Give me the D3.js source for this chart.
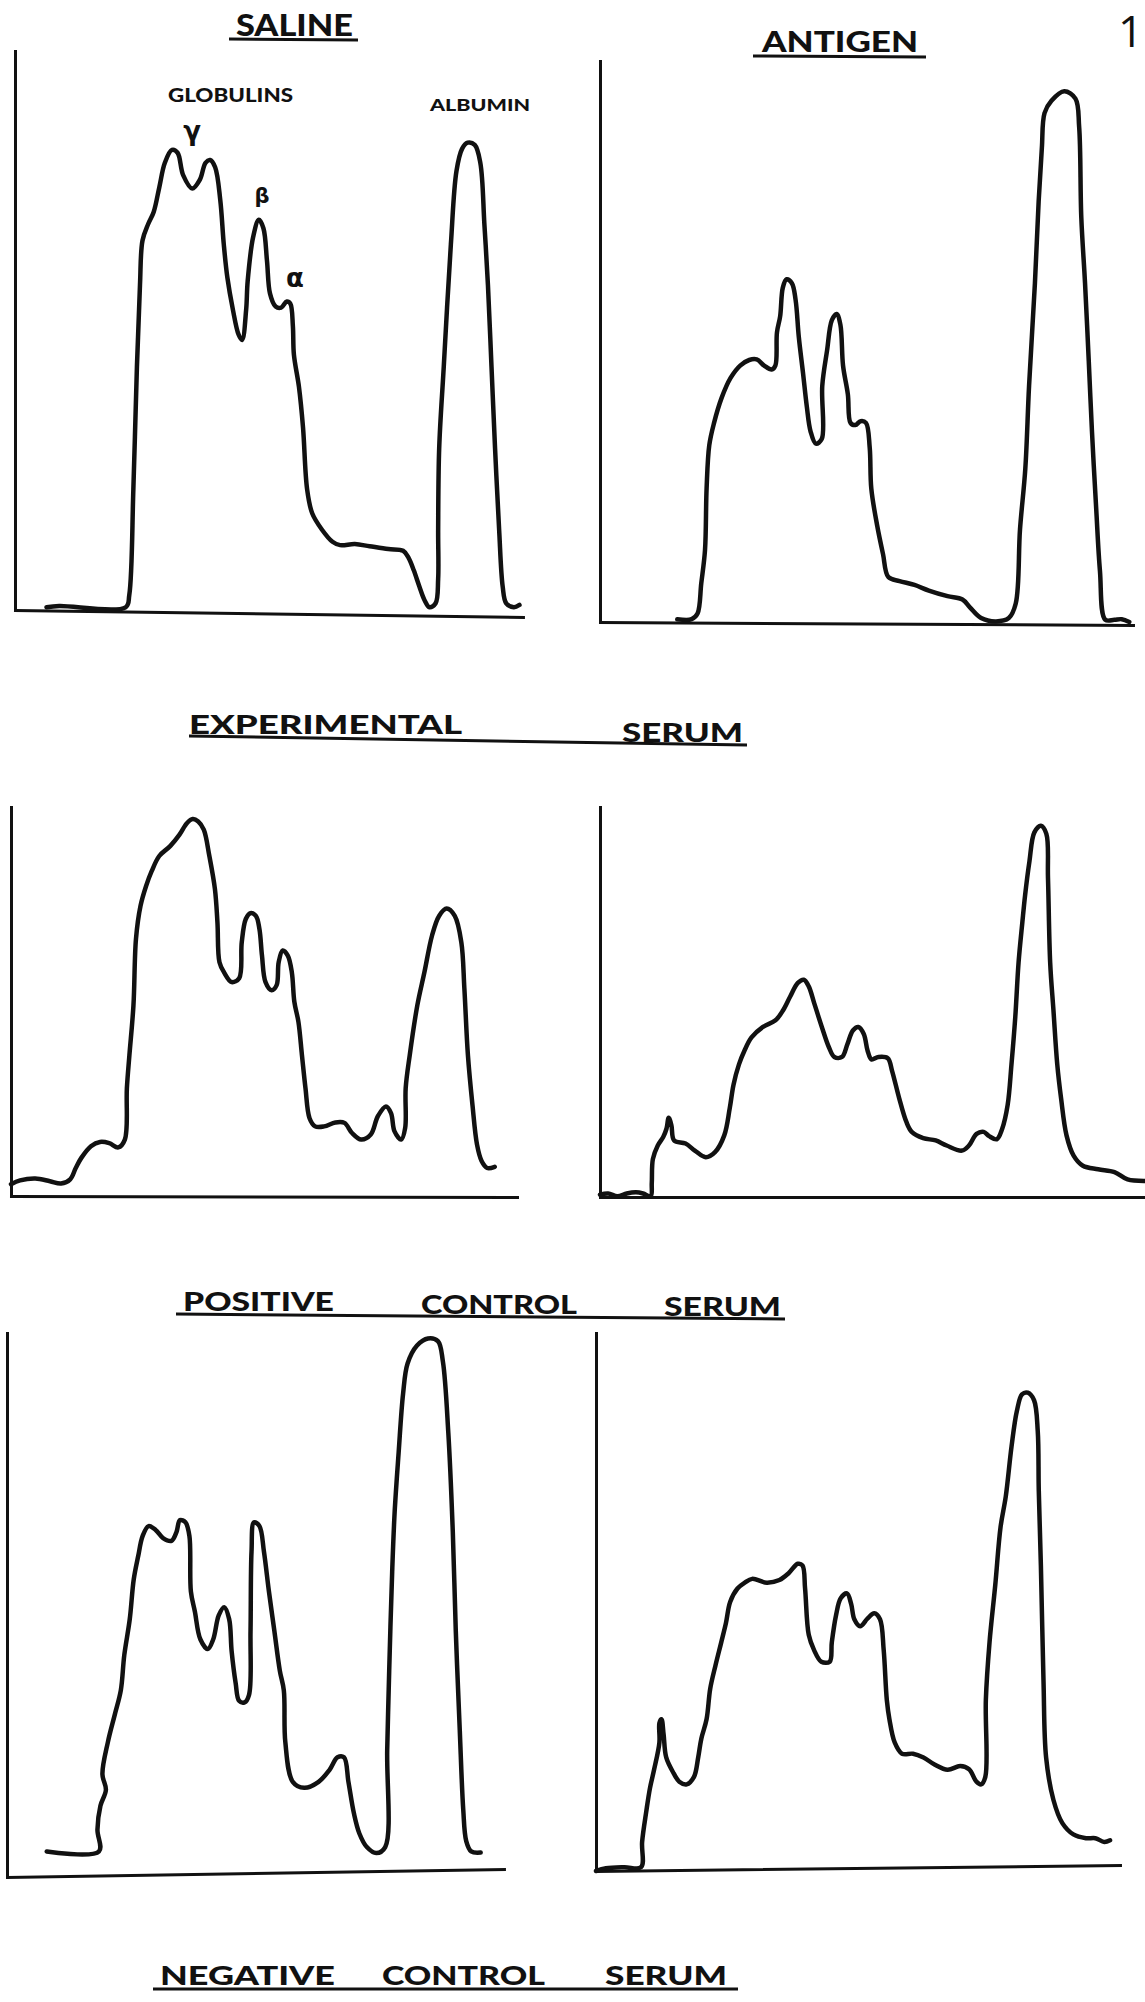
<!DOCTYPE html>
<html><head><meta charset="utf-8">
<script src="https://cdn.jsdelivr.net/npm/d3@7"></script>
<style>body{margin:0;background:#fff}svg{display:block}</style>
</head><body>
<svg id="chart" width="1145" height="2002"></svg>
<script>
// ---- data: [relative migration position (0-100), relative optical density (0-100)] ----
const expSalineTrace = [[6.2,0.5],[8.7,0.7],[21.8,0.5],[22.5,2.7],[23.3,21.6],[24.0,43.5],[24.6,58.1],[25.1,66.1],[26.2,69.0],[27.3,71.2],[28.4,75.6],[29.5,80.0],[30.9,82.3],[32.0,81.8],[33.1,77.8],[34.9,75.4],[36.4,77.0],[37.5,80.0],[38.4,80.5],[39.4,79.2],[40.4,73.4],[41.1,65.4],[41.8,59.5],[42.9,53.7],[44.0,49.3],[44.7,48.3],[45.5,53.7],[45.8,58.8],[46.9,66.8],[48.0,69.8],[48.9,68.3],[49.6,62.5],[50.2,56.6],[51.3,54.3],[52.4,54.1],[53.5,55.2],[54.2,54.8],[54.7,50.8],[54.9,45.7],[55.9,39.9],[56.7,32.6],[57.5,21.6],[58.5,17.3],[60.4,14.4],[62.5,12.2],[64.0,11.6],[66.9,11.8],[69.8,11.4],[73.5,10.9],[76.4,10.6],[77.5,9.3],[78.5,7.1],[79.6,4.2],[80.6,1.8],[81.6,0.5],[82.8,1.2],[83.3,5.6],[83.3,14.4],[83.5,28.9],[84.4,43.5],[85.8,65.4],[86.9,78.5],[88.0,82.5],[89.1,83.6],[90.5,83.2],[91.6,80.0],[92.4,69.0],[93.1,58.1],[93.8,43.5],[94.5,28.9],[95.3,14.4],[96.0,4.2],[96.7,1.2],[98.2,0.5],[99.3,0.9]];

const expAntigenTrace = [[14.5,0.5],[17.2,0.5],[18.3,1.5],[19.0,6.9],[19.7,12.8],[20.0,23.8],[20.5,31.5],[21.4,35.5],[22.8,39.9],[24.5,43.5],[26.3,45.7],[28.0,46.7],[29.4,46.8],[30.8,45.7],[32.2,45.0],[32.9,45.7],[33.2,51.6],[33.8,54.5],[34.3,59.6],[35.0,61.1],[36.0,60.4],[36.7,57.4],[37.3,50.8],[38.1,44.3],[38.8,38.4],[39.5,34.0],[40.5,31.8],[41.6,32.6],[41.7,42.1],[42.6,48.4],[43.5,53.8],[44.4,54.9],[45.1,53.0],[45.6,45.7],[46.5,40.6],[47.0,35.5],[47.9,35.1],[48.9,35.8],[49.9,35.5],[50.6,31.1],[50.9,23.8],[52.0,17.2],[53.1,12.1],[54.1,8.0],[56.2,7.3],[59.0,6.6],[61.7,5.6],[65.2,4.6],[68.0,4.0],[69.4,2.6],[71.5,0.7],[74.3,0.1],[76.7,0.7],[78.0,3.3],[78.8,16.5],[79.8,27.4],[80.5,42.1],[81.6,60.4],[82.3,75.0],[82.9,84.5],[83.4,90.7],[84.7,92.9],[87.1,94.6],[89.2,93.3],[89.9,88.2],[90.3,72.1],[91.0,60.4],[91.7,46.5],[92.3,34.0],[93.1,20.1],[93.8,9.1],[94.8,0.4],[96.5,0.4],[97.9,0.5],[99.3,0.0]];

const posSalineTrace = [[0,3.0],[1.8,4.0],[4.8,4.5],[7.7,3.8],[9.9,3.2],[11.7,4.3],[12.8,7.2],[13.9,9.8],[15.8,12.8],[17.6,13.9],[19.4,13.6],[21.2,12.5],[22.5,14.5],[22.9,27.7],[23.4,36.2],[24.2,49.0],[24.7,66.1],[25.6,74.6],[26.7,79.7],[27.8,83.5],[29.3,87.4],[31.5,90.0],[33.3,92.9],[34.8,95.9],[35.9,96.9],[37.0,96.3],[38.1,94.2],[39.2,87.4],[40.3,78.9],[40.8,70.3],[41.2,60.1],[42.1,57.5],[43.6,55.0],[45.1,56.0],[45.6,65.2],[46.4,71.2],[47.3,72.7],[48.4,72.0],[49.1,68.6],[49.6,61.8],[50.3,55.0],[51.5,52.9],[52.5,54.2],[52.9,60.1],[53.7,63.1],[54.7,61.8],[55.5,57.5],[56.0,49.9],[56.8,44.8],[57.5,36.2],[58.2,27.7],[59.0,20.0],[60.1,17.9],[61.9,17.9],[64.1,18.9],[65.9,18.8],[67.4,16.2],[69.2,14.5],[71.1,15.8],[72.5,20.5],[74.1,23.0],[75.1,21.3],[75.8,16.6],[77.1,14.5],[77.9,17.5],[78.0,27.7],[78.8,36.2],[80.3,49.0],[81.7,57.5],[83.2,66.9],[84.6,72.0],[86.1,73.9],[87.7,72.0],[89.0,65.2],[89.6,53.3],[90.3,36.2],[91.2,23.4],[92.1,13.2],[93.0,9.0],[94.1,7.2],[95.6,7.5]];

const posAntigenTrace = [[0,0.6],[1.5,0.9],[3.2,0.2],[4.9,0.9],[6.6,1.2],[7.9,0.9],[9.3,0.2],[9.5,3.6],[9.7,9.7],[10.6,13.2],[11.6,15.4],[12.2,17.5],[12.6,20.3],[13.1,18.4],[13.6,14.5],[15.7,13.7],[17.4,11.9],[19.4,10.2],[21.1,11.5],[22.8,15.8],[23.8,22.7],[24.5,28.8],[25.5,34.0],[26.5,37.5],[27.8,40.9],[29.9,43.6],[32.2,45.3],[33.6,47.9],[34.9,51.4],[36.3,54.9],[37.4,55.7],[38.3,54.0],[39.3,49.7],[40.7,43.6],[42.0,38.4],[43.0,35.9],[44.4,35.9],[45.4,39.2],[46.4,42.7],[47.4,43.6],[48.4,41.8],[49.1,37.5],[49.8,35.3],[51.1,35.9],[52.8,35.6],[53.6,32.3],[54.9,25.3],[56.2,19.3],[57.2,16.7],[59.3,15.1],[61.6,14.5],[63.6,13.2],[66.4,11.9],[67.7,13.2],[69.1,16.2],[70.4,16.7],[71.4,15.6],[72.8,14.8],[73.8,17.5],[74.8,23.6],[75.5,34.0],[76.2,46.2],[76.8,60.1],[77.5,70.5],[78.0,77.4],[78.8,86.1],[79.7,93.5],[80.9,95.2],[81.9,93.1],[82.2,81.8],[82.6,60.1],[83.2,47.9],[83.9,34.0],[84.6,25.3],[85.6,15.8],[86.9,10.6],[88.6,8.0],[91.4,7.1],[94.4,6.4],[96.8,4.5],[100,4.1]];

const negSalineTrace = [[8.0,4.7],[18.5,4.7],[18.2,8.7],[18.8,13.1],[19.9,16.0],[19.2,18.9],[20.3,24.8],[21.7,29.9],[22.9,34.3],[23.6,40.8],[24.7,47.4],[25.5,54.7],[26.4,59.0],[27.3,62.7],[28.5,64.5],[29.9,63.8],[31.4,62.3],[33.1,61.8],[34.1,63.4],[34.8,65.6],[35.9,65.2],[36.7,62.7],[37.0,52.5],[37.8,48.8],[38.9,43.7],[40.4,41.9],[41.5,43.7],[42.6,48.1],[43.7,49.6],[44.7,47.4],[45.2,41.5],[46.0,35.7],[46.7,32.4],[47.8,32.1],[48.7,33.5],[49.0,45.2],[49.2,59.8],[49.7,65.2],[50.8,64.5],[51.7,59.8],[52.7,52.5],[53.8,45.2],[54.9,37.9],[55.7,34.3],[56.0,24.8],[57.5,17.5],[59.8,16.4],[62.7,17.5],[64.9,19.7],[66.5,22.0],[67.8,22.0],[68.7,17.5],[69.8,11.7],[70.9,8.0],[72.4,5.5],[74.3,4.4],[76.1,5.5],[76.5,23.3],[76.9,37.9],[77.5,56.1],[78.0,67.1],[78.8,78.0],[79.7,88.9],[80.6,94.4],[82.5,97.7],[84.7,99.0],[86.7,98.5],[87.7,94.8],[88.8,81.6],[89.7,63.4],[90.3,45.2],[91.1,27.0],[91.8,12.4],[92.4,6.6],[93.4,4.7],[95.3,4.5]];

const negAntigenTrace = [[0,0],[1.9,0.5],[5.4,0.7],[8.6,0.7],[8.8,5.4],[9.6,11.1],[10.3,15.4],[11.1,18.9],[12.1,23.9],[12.1,27.5],[12.5,28.2],[12.9,25.4],[13.4,21.1],[14.8,18.2],[15.9,16.6],[17.3,16.1],[18.7,17.5],[19.5,21.1],[20.1,24.6],[21.1,28.2],[21.8,33.9],[22.8,38.2],[23.9,42.5],[24.8,46.1],[25.6,50.0],[27.0,52.5],[28.4,53.6],[29.8,54.3],[32.6,53.6],[35.0,54.1],[36.8,55.4],[38.5,57.1],[39.4,56.8],[39.9,52.5],[40.6,43.9],[41.6,41.1],[43.0,38.9],[44.6,38.9],[45.0,42.5],[45.8,47.5],[46.7,50.7],[47.9,51.6],[48.7,49.6],[49.3,46.8],[50.4,45.5],[51.8,46.9],[53.1,47.9],[54.2,46.8],[54.9,41.1],[55.5,31.8],[56.0,28.2],[57.0,23.9],[58.4,21.8],[60.5,21.8],[62.5,21.1],[64.6,19.8],[67.1,18.8],[69.5,19.5],[71.2,18.9],[72.6,16.6],[73.5,16.1],[74.3,17.5],[74.4,31.8],[75.1,42.5],[76.2,53.2],[77.2,63.9],[78.2,69.6],[79.3,78.9],[80.3,85.4],[81.3,88.6],[82.4,88.9],[83.6,87.5],[84.3,81.8],[84.5,70.7],[84.9,56.8],[85.4,35.4],[85.9,21.1],[87.3,13.2],[89.0,8.9],[91.1,6.8],[93.5,6.1],[95.3,6.1],[97.0,5.4],[98.1,5.7]];

const columnTitles = ["SALINE", "ANTIGEN"];
const rowCaptions = [["EXPERIMENTAL", "SERUM"], ["POSITIVE", "CONTROL", "SERUM"], ["NEGATIVE", "CONTROL", "SERUM"]];
const fractionLabels = ["GLOBULINS", "ALBUMIN"];
const peakLabels = ["γ", "β", "α"];
const pageNumber = "1";

// ---- layout (pixel positions only) ----
const panels = [
  {trace: expSalineTrace,  x0: 15,  x1: 523,  yBase: 610,  yTop: 51,   tilt: 7},
  {trace: expAntigenTrace, x0: 600, x1: 1133, yBase: 622,  yTop: 61,   tilt: 3},
  {trace: posSalineTrace,  x0: 11,  x1: 517,  yBase: 1196, yTop: 807,  tilt: 1},
  {trace: posAntigenTrace, x0: 600, x1: 1145, yBase: 1197, yTop: 807,  tilt: 0},
  {trace: negSalineTrace,  x0: 7,   x1: 504,  yBase: 1877, yTop: 1333, tilt: -8},
  {trace: negAntigenTrace, x0: 596, x1: 1120, yBase: 1871, yTop: 1333, tilt: -6}
];

const svg = d3.select("#chart");
svg.append("rect").attr("width", 1145).attr("height", 2002).attr("fill", "#fff");
const ink = "#111";
const titleFont = "Lato, 'Open Sans', 'DejaVu Sans', sans-serif";

panels.forEach((p, i) => {
  const x = d3.scaleLinear().domain([0, 100]).range([p.x0, p.x1]);
  const y = d3.scaleLinear().domain([0, 100]).range([p.yBase, p.yTop]);
  const g = svg.append("g").attr("class", "panel-" + i);

  const ang = Math.atan2(p.tilt, p.x1 - p.x0) * 180 / Math.PI;
  const xAxis = g.append("g")
    .attr("transform", `rotate(${ang},${p.x0},${p.yBase}) translate(0,${p.yBase})`)
    .call(d3.axisBottom(x).tickValues([]).tickSizeOuter(0));
  const yAxis = g.append("g")
    .attr("transform", `translate(${p.x0},0)`)
    .call(d3.axisLeft(y).tickValues([]).tickSizeOuter(0));
  [xAxis, yAxis].forEach(a => a.select(".domain").attr("stroke", ink).attr("stroke-width", 3).attr("stroke-linecap", "square"));

  const line = d3.line()
    .x(d => x(d[0])).y(d => y(d[1]))
    .curve(d3.curveCatmullRom.alpha(0.5));
  g.append("path").datum(p.trace)
    .attr("d", line)
    .attr("fill", "none")
    .attr("stroke", ink)
    .attr("stroke-width", 4.5)
    .attr("stroke-linejoin", "round")
    .attr("stroke-linecap", "round");
});

// ---- titles ----
function word(txt, x0, x1, yb, size) {
  svg.append("text").text(txt)
    .attr("x", x0).attr("y", yb)
    .attr("textLength", x1 - x0).attr("lengthAdjust", "spacingAndGlyphs")
    .attr("font-family", titleFont).attr("font-weight", 900)
    .attr("font-size", size).attr("fill", ink);
}
function underline(xa, ya, xb, yb, w) {
  svg.append("line").attr("x1", xa).attr("y1", ya).attr("x2", xb).attr("y2", yb)
    .attr("stroke", ink).attr("stroke-width", w || 3);
}

word(columnTitles[0], 236, 353, 36, 30);
underline(229, 39, 358, 40);
word(columnTitles[1], 762, 918, 52, 29);
underline(753, 56, 926, 57);

svg.append("text").text(pageNumber).attr("x", 1118).attr("y", 47)
  .attr("font-family", "'Open Sans', sans-serif").attr("font-size", 44).attr("fill", ink);

word(rowCaptions[0][0], 189, 462, 734, 26);
word(rowCaptions[0][1], 622, 743, 742, 26);
underline(189, 736, 747, 745);

word(rowCaptions[1][0], 183, 334, 1311, 26);
word(rowCaptions[1][1], 421, 577, 1314, 26);
word(rowCaptions[1][2], 664, 781, 1316, 26);
underline(176, 1314, 785, 1319);

word(rowCaptions[2][0], 160, 335, 1985, 26);
word(rowCaptions[2][1], 382, 545, 1985, 26);
word(rowCaptions[2][2], 605, 727, 1985, 26);
underline(153, 1989, 738, 1989);

// ---- fraction labels on the first panel ----
word(fractionLabels[0], 168, 293, 102, 18);
word(fractionLabels[1], 430, 530, 111, 17);

const greek = [{t: peakLabels[0], x: 192, y: 140, s: 26}, {t: peakLabels[1], x: 262, y: 203, s: 21}, {t: peakLabels[2], x: 295, y: 287, s: 26}];
greek.forEach(g => svg.append("text").text(g.t).attr("x", g.x).attr("y", g.y)
  .attr("text-anchor", "middle").attr("font-family", "'DejaVu Sans', sans-serif")
  .attr("font-weight", "bold").attr("font-size", g.s).attr("fill", ink));
</script>
</body></html>
